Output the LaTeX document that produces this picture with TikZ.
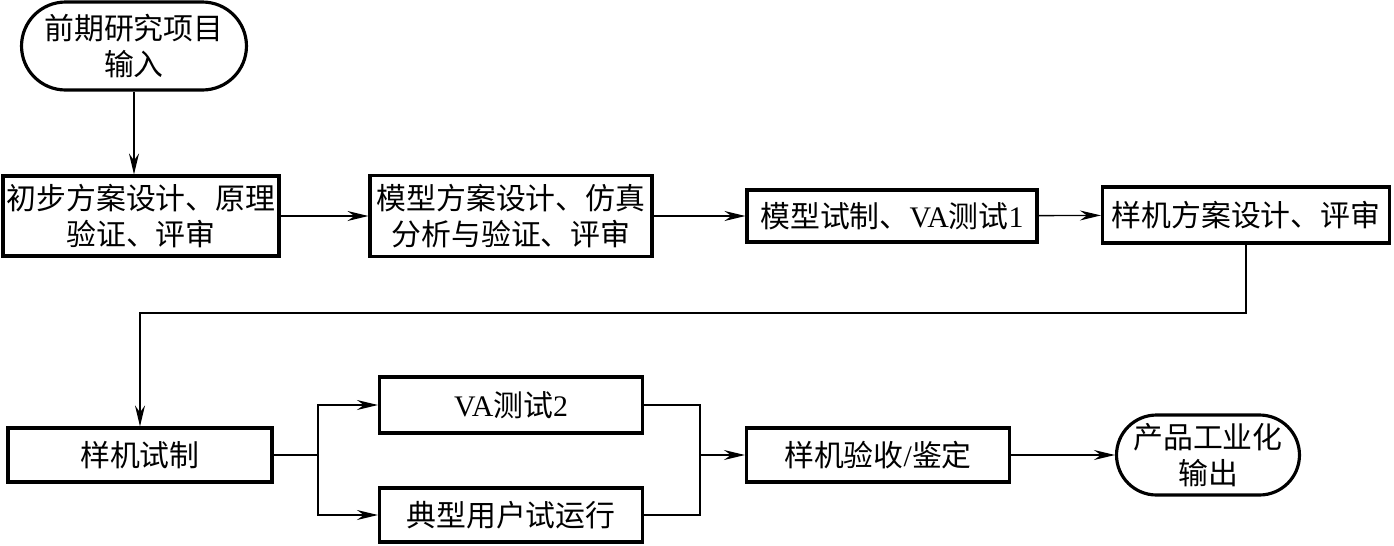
\documentclass[tikz,border=0pt]{standalone}
\usepackage{fontspec}
\setmainfont{Liberation Serif}
\newfontfamily\cjk{Noto Sans CJK SC}
\usetikzlibrary{arrows.meta,shapes.misc}
\newcommand{\lat}[1]{{\rmfamily #1}}
\tikzset{
  stepbox/.style={draw,line width=1.8pt,inner sep=0pt,align=center,
              font=\cjk\fontsize{17pt}{20.5pt}\selectfont},
  term/.style={stepbox,rounded rectangle},
  flow/.style={-{Stealth[length=4.2mm,width=2mm,inset=1.4mm]},line width=0.8pt},
  wire/.style={line width=0.8pt},
}
\begin{document}
\begin{tikzpicture}[x=0.02cm,y=-0.02cm]
  \useasboundingbox (0,0) rectangle (1394,545);
  % upper row
  \node[term,minimum width=4.5cm,minimum height=1.76cm] (start) at (134,46) {前期研究项目\\输入};
  \node[stepbox,minimum width=5.52cm,minimum height=1.6cm] (prelim) at (141,216) {初步方案设计、原理\\验证、评审};
  \node[stepbox,minimum width=5.64cm,minimum height=1.62cm] (model) at (511,216) {模型方案设计、仿真\\分析与验证、评审};
  \node[stepbox,minimum width=5.8cm,minimum height=1.04cm] (mfab) at (892,216) {模型试制、\lat{VA}测试\lat{1}};
  \node[stepbox,minimum width=5.74cm,minimum height=1.12cm] (proto) at (1246,215) {样机方案设计、评审};
  % lower row
  \node[stepbox,minimum width=5.28cm,minimum height=1.08cm] (sample) at (140,455) {样机试制};
  \node[stepbox,minimum width=5.26cm,minimum height=1.12cm] (va2) at (511,405) {\lat{VA}测试\lat{2}};
  \node[stepbox,minimum width=5.26cm,minimum height=1.08cm] (user) at (511,515) {典型用户试运行};
  \node[stepbox,minimum width=5.26cm,minimum height=1.08cm] (accept) at (878,455) {样机验收\lat{/}鉴定};
  \node[term,minimum width=3.66cm,minimum height=1.6cm] (finish) at (1208,455) {产品工业化\\输出};
  \coordinate (turn) at (0,313);
  \coordinate (fork) at (318,455);
  \coordinate (join) at (700,455);
  \draw[flow] (start.south) -- (start.south |- prelim.north);
  \draw[flow] (prelim) -- (model);
  \draw[flow] (model) -- (mfab);
  \draw[flow] (mfab) -- (proto);
  \draw[flow] (proto.south) -- (proto.south |- turn) -| (sample.north);
  \draw[wire] (sample) -- (fork);
  \draw[flow] (fork) |- (va2.west);
  \draw[flow] (fork) |- (user.west);
  \draw[wire] (va2.east) -| (join);
  \draw[wire] (user.east) -| (join);
  \draw[flow] (join) -- (accept);
  \draw[flow] (accept) -- (finish);
\end{tikzpicture}
\end{document}
